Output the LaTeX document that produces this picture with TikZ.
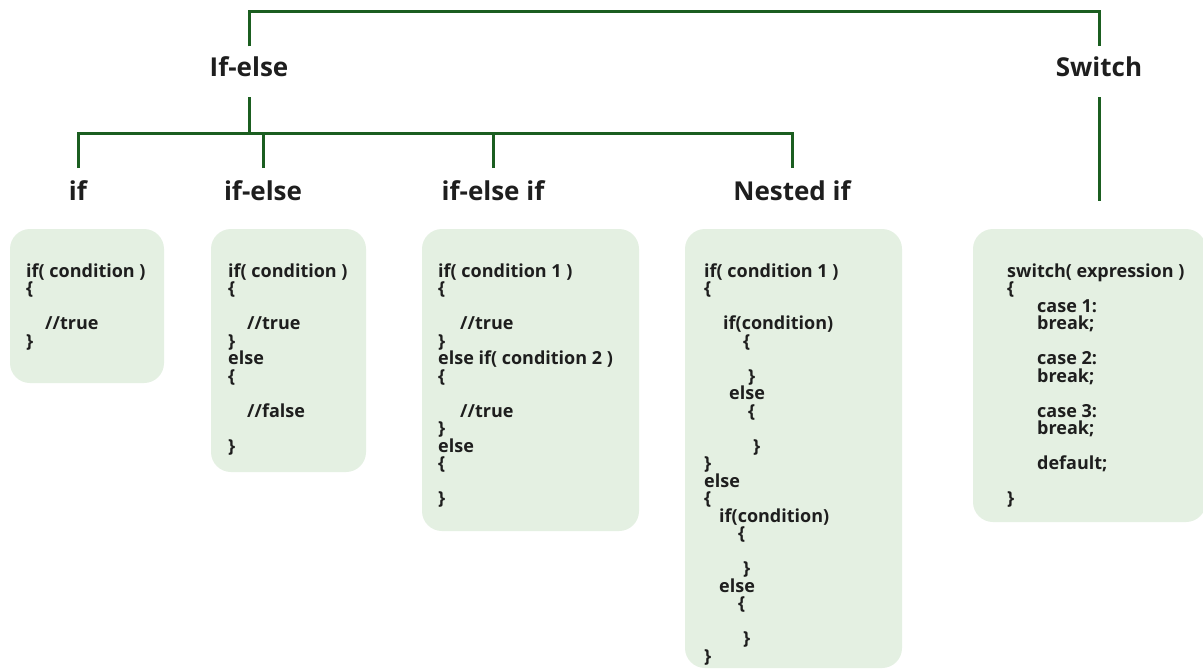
\documentclass[tikz,border=0pt]{standalone}
\usepackage{fontspec}
\setmainfont{Open Sans}
\definecolor{lineg}{RGB}{27,94,32}
\definecolor{panelg}{RGB}{228,240,226}
\definecolor{ink}{RGB}{30,30,30}
\tikzset{
  link/.style={draw=lineg, line width=3pt},
  head/.style={font=\fontsize{26}{30}\selectfont\bfseries, text=ink, inner sep=0pt,
               text height=19pt, text depth=9pt, anchor=base},
  toprow/.style={head, outer ysep=11.5pt},
  subrow/.style={head, outer ysep=13pt},
  panel/.style={fill=panelg, rounded corners=20pt},
  code/.style={font=\fontsize{18}{17.5}\selectfont\bfseries, text=ink, inner sep=0pt, anchor=base west},
}
\begin{document}
\begin{tikzpicture}[x=1pt, y=-1pt]
\useasboundingbox (0,0) rectangle (1203,669);
\fill[white] (0,0) rectangle (1203,669);

% code panels
\path[panel] (10,229) rectangle (164,383);
\path[panel] (211,229) rectangle (366,472);
\path[panel] (422,229) rectangle (639,531);
\path[panel] (685,229) rectangle (902,668);
\path[panel] (973,229) rectangle (1206,522);

% headings
\node[toprow] (ifelse) at (249,77) {If-else};
\node[toprow] (switch) at (1099,77) {Switch};
\node[subrow] (if)     at (78,200)  {if};
\node[subrow] (ifel)   at (263,200) {if-else};
\node[subrow] (elif)   at (493,200) {if-else if};
\node[subrow] (nested) at (792,200) {Nested if};

% connectors
\coordinate (topbar) at (600,12);
\coordinate (midbar) at (400,133);
\coordinate (swend)  at (1098,201);
\draw[link] (ifelse.north) |- (topbar) -| (switch.north);
\draw[link] (ifelse.south) -- (ifelse.south |- midbar);
\draw[link] (if.north) |- (midbar) -| (nested.north);
\draw[link] (ifel.north) -- (ifel.north |- midbar);
\draw[link] (elif.north) -- (elif.north |- midbar);
\draw[link] (switch.south) -- (switch.south |- swend);

% if
\foreach \n/\x/\i/\t in {a/26/0/{if( condition )}, b/26/1/{\{}, c/45/3/{//true}, d/26/4/{\}}}
  \node[code] (p1\n) at (\x,{277+17.5*\i}) {\t};

% if-else
\foreach \n/\x/\i/\t in {a/228/0/{if( condition )}, b/228/1/{\{}, c/247/3/{//true}, d/228/4/{\}},
    e/228/5/{else}, f/228/6/{\{}, g/247/8/{//false}, h/228/10/{\}}}
  \node[code] (p2\n) at (\x,{277+17.5*\i}) {\t};

% if-else if
\foreach \n/\x/\i/\t in {a/438/0/{if( condition 1 )}, b/438/1/{\{}, c/460/3/{//true}, d/438/4/{\}},
    e/438/5/{else if( condition 2 )}, f/438/6/{\{}, g/460/8/{//true}, h/438/9/{\}},
    i/438/10/{else}, j/438/11/{\{}, k/438/13/{\}}}
  \node[code] (p3\n) at (\x,{277+17.5*\i}) {\t};

% nested if
\foreach \n/\x/\i/\t in {a/704/0/{if( condition 1 )}, b/704/1/{\{}, c/723/3/{if(condition)},
    d/743/4/{\{}, e/748/6/{\}}, f/729/7/{else}, g/748/8/{\{}, h/753/10/{\}}, i/704/11/{\}},
    j/704/12/{else}, k/704/13/{\{}, l/719/14/{if(condition)}, m/738/15/{\{}, n/743/17/{\}},
    o/719/18/{else}, p/738/19/{\{}, q/743/21/{\}}, r/704/22/{\}}}
  \node[code] (p4\n) at (\x,{277+17.5*\i}) {\t};

% switch
\foreach \n/\x/\i/\t in {a/1007/0/{switch( expression )}, b/1007/1/{\{},
    c/1037/2/{case 1:}, d/1037/3/{break;}, e/1037/5/{case 2:}, f/1037/6/{break;},
    g/1037/8/{case 3:}, h/1037/9/{break;}, i/1037/11/{default;}, j/1007/13/{\}}}
  \node[code] (p5\n) at (\x,{277+17.5*\i}) {\t};
\end{tikzpicture}
\end{document}
